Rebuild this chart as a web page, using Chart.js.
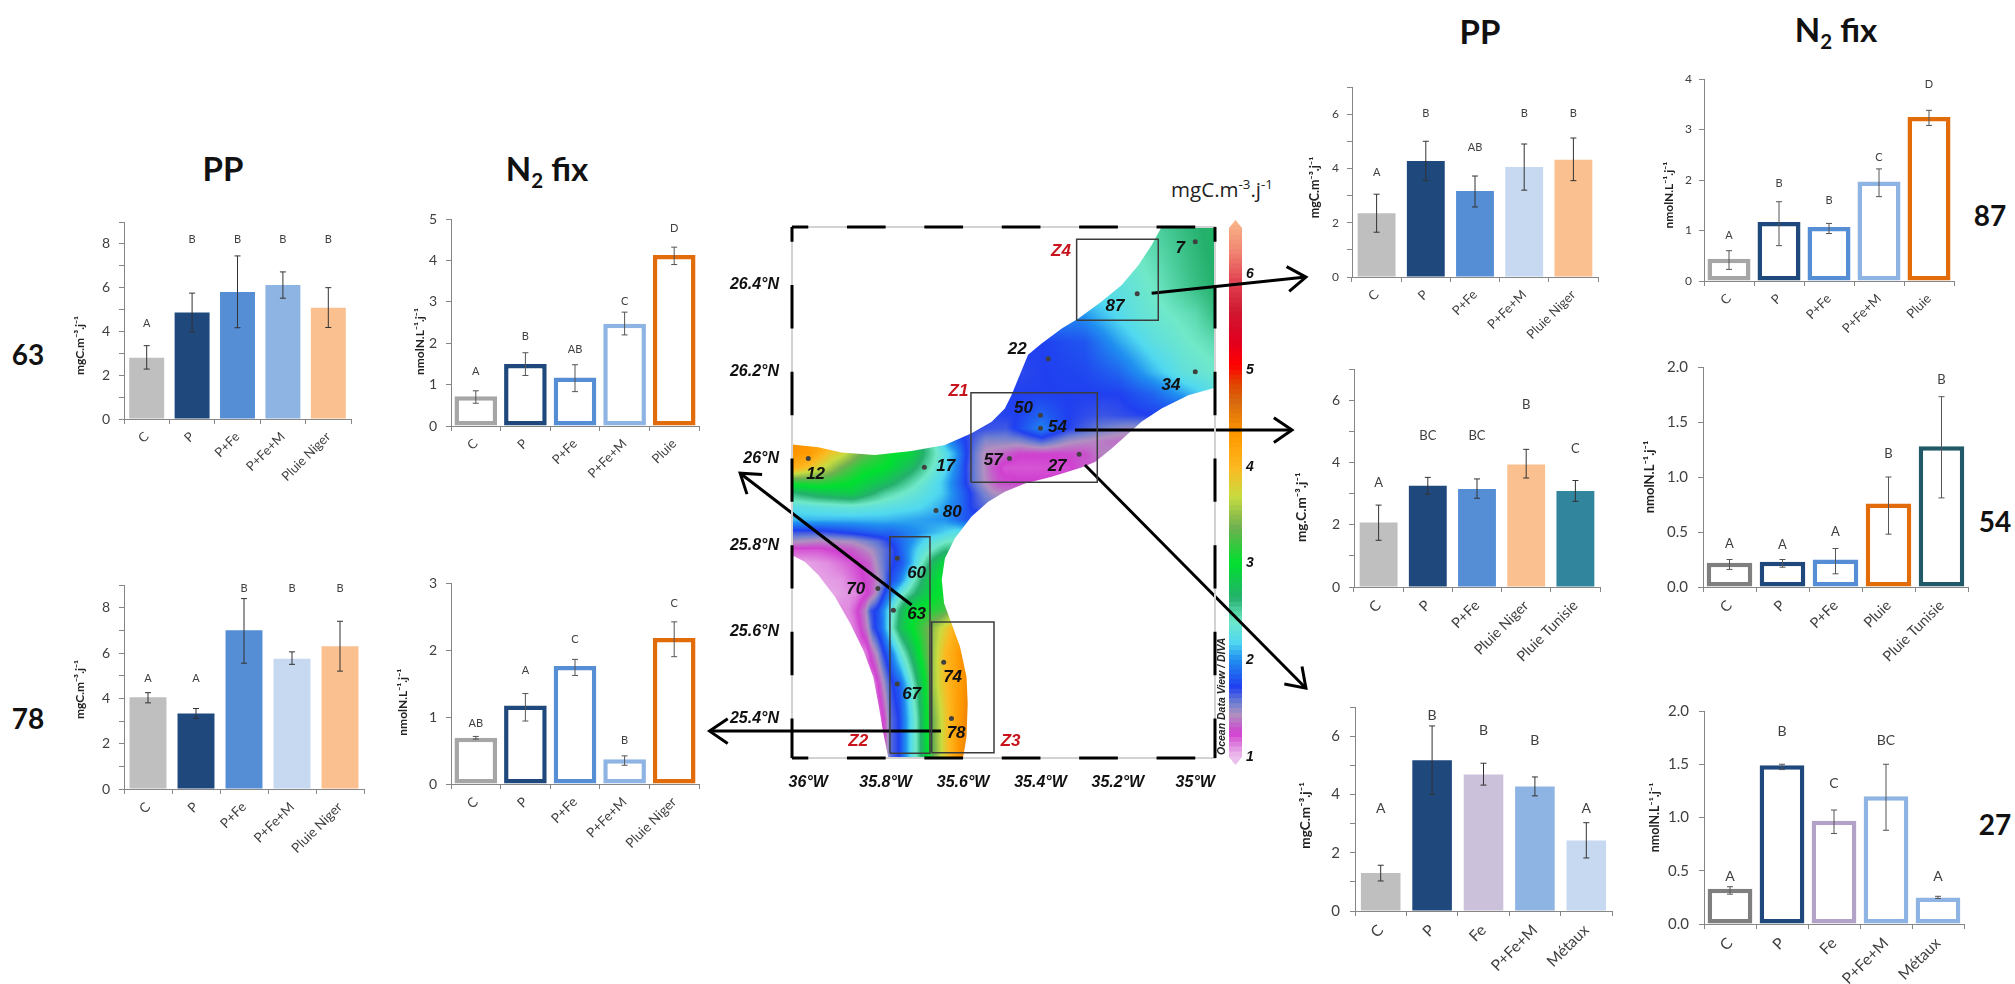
<!DOCTYPE html>
<html lang="fr">
<head>
  <meta charset="UTF-8">
  <title>PP et N2 fix par station</title>
  <script src="https://cdn.jsdelivr.net/npm/chart.js"></script>
  <style>
    html, body { margin: 0; background: #fff; }
    body { position: relative; width: 2015px; height: 984px; overflow: hidden; font-family: Lato, sans-serif; }
    canvas { position: absolute; }
    .big {
      position: absolute;
      transform: translate(-50%, -50%);
      font-weight: 700;
      color: #111;
      line-height: 1;
      white-space: nowrap;
    }
    .big sub { font-size: .62em; line-height: 0; }
    .unit {
      position: absolute;
      transform: translate(-50%, -50%);
      font-family: "Open Sans", sans-serif;
      font-size: 20.5px;
      color: #222;
      white-space: nowrap;
    }
    .unit sup { font-size: .65em; line-height: 0; }
  </style>
</head>
<body>
  <div class="big" style="left:223px;top:168px;font-size:33px">PP</div>
  <div class="big" style="left:547px;top:168px;font-size:33px">N<sub>2</sub> fix</div>
  <div class="big" style="left:1480px;top:31px;font-size:33px">PP</div>
  <div class="big" style="left:1836px;top:29px;font-size:33px">N<sub>2</sub> fix</div>
  <div class="big" style="left:28px;top:354px;font-size:28px">63</div>
  <div class="big" style="left:28px;top:718px;font-size:28px">78</div>
  <div class="big" style="left:1990px;top:215px;font-size:28px">87</div>
  <div class="big" style="left:1995px;top:521px;font-size:28px">54</div>
  <div class="big" style="left:1995px;top:824px;font-size:28px">27</div>
  <div class="unit" style="left:1222px;top:189px">mgC.m<sup>-3</sup>.j<sup>-1</sup></div>

  <canvas id="colorbar" width="50" height="585" style="left:1225px;top:200px"></canvas>
  <canvas id="map" width="620" height="600" style="left:700px;top:200px;z-index:2"></canvas>

  <script>
    // categories
    const catsNiger = ['C', 'P', 'P+Fe', 'P+Fe+M', 'Pluie Niger'];
    const catsPluie = ['C', 'P', 'P+Fe', 'P+Fe+M', 'Pluie'];
    const catsTunisPP = ['C', 'P', 'P+Fe', 'Pluie Niger', 'Pluie Tunisie'];
    const catsTunisN2 = ['C', 'P', 'P+Fe', 'Pluie', 'Pluie Tunisie'];
    const catsMetaux = ['C', 'P', 'Fe', 'P+Fe+M', 'Métaux'];

    // station 63
    const pp63 = [2.8, 4.87, 5.8, 6.12, 5.08];
    const pp63Low = [2.28, 3.98, 4.17, 5.52, 4.18];
    const pp63High = [3.35, 5.75, 7.45, 6.72, 6.0];
    const pp63Letters = ['A', 'B', 'B', 'B', 'B'];
    const pp63LetterY = [4.38, 8.18, 8.18, 8.18, 8.18];
    const n63 = [0.72, 1.5, 1.17, 2.47, 4.13];
    const n63Low = [0.55, 1.22, 0.83, 2.2, 3.9];
    const n63High = [0.85, 1.77, 1.48, 2.75, 4.32];
    const n63Letters = ['A', 'B', 'AB', 'C', 'D'];
    const n63LetterY = [1.32, 2.16, 1.85, 3.0, 4.77];

    // station 78
    const pp78 = [4.05, 3.33, 7.0, 5.75, 6.3];
    const pp78Low = [3.8, 3.12, 5.55, 5.5, 5.2];
    const pp78High = [4.25, 3.55, 8.4, 6.05, 7.4];
    const pp78Letters = ['A', 'A', 'B', 'B', 'B'];
    const pp78LetterY = [4.86, 4.86, 8.85, 8.85, 8.85];
    const n78 = [0.69, 1.17, 1.76, 0.37, 2.18];
    const n78Low = [0.67, 0.94, 1.62, 0.28, 1.9];
    const n78High = [0.71, 1.35, 1.86, 0.42, 2.42];
    const n78Letters = ['AB', 'A', 'C', 'B', 'C'];
    const n78LetterY = [0.91, 1.69, 2.15, 0.65, 2.7];

    // station 87
    const pp87 = [2.35, 4.27, 3.17, 4.05, 4.32];
    const pp87Low = [1.65, 3.55, 2.58, 3.2, 3.55];
    const pp87High = [3.05, 5.0, 3.72, 4.9, 5.12];
    const pp87Letters = ['A', 'B', 'AB', 'B', 'B'];
    const pp87LetterY = [3.84, 6.03, 4.78, 6.03, 6.03];
    const n87 = [0.44, 1.17, 1.07, 1.97, 3.25];
    const n87Low = [0.23, 0.7, 0.94, 1.67, 3.08];
    const n87High = [0.6, 1.57, 1.14, 2.22, 3.38];
    const n87Letters = ['A', 'B', 'B', 'C', 'D'];
    const n87LetterY = [0.9, 1.93, 1.6, 2.45, 3.89];

    // station 54
    const pp54 = [2.07, 3.25, 3.15, 3.93, 3.08];
    const pp54Low = [1.5, 2.98, 2.85, 3.5, 2.75];
    const pp54High = [2.63, 3.52, 3.47, 4.42, 3.42];
    const pp54Letters = ['A', 'BC', 'BC', 'B', 'C'];
    const pp54LetterY = [3.36, 4.85, 4.87, 5.86, 4.43];
    const n54 = [0.22, 0.23, 0.25, 0.76, 1.28];
    const n54Low = [0.16, 0.18, 0.12, 0.48, 0.81];
    const n54High = [0.25, 0.25, 0.35, 1.0, 1.73];
    const n54Letters = ['A', 'A', 'A', 'B', 'B'];
    const n54LetterY = [0.39, 0.38, 0.5, 1.21, 1.885];

    // station 27
    const pp27 = [1.3, 5.17, 4.68, 4.27, 2.42];
    const pp27Low = [1.03, 4.0, 4.32, 3.95, 1.82];
    const pp27High = [1.57, 6.35, 5.07, 4.6, 3.03];
    const pp27Letters = ['A', 'B', 'B', 'B', 'A'];
    const pp27LetterY = [3.53, 6.72, 6.2, 5.86, 3.53];
    const n27 = [0.33, 1.49, 0.97, 1.2, 0.25];
    const n27Low = [0.28, 1.45, 0.85, 0.88, 0.24];
    const n27High = [0.35, 1.5, 1.07, 1.5, 0.26];
    const n27Letters = ['A', 'B', 'C', 'BC', 'A'];
    const n27LetterY = [0.45, 1.81, 1.32, 1.72, 0.45];

    // map stations
    const stationIds = ['7', '87', '22', '34', '50', '54', '27', '57', '12', '17', '80', '60', '70', '63', '67', '74', '78'];
    const stationLon = [-35, -35.15, -35.38, -35, -35.4, -35.4, -35.3, -35.48, -36, -35.7, -35.67, -35.77, -35.82, -35.78, -35.77, -35.65, -35.63];
    const stationLat = [26.5, 26.38, 26.23, 26.2, 26.1, 26.07, 26.01, 26.0, 26.0, 25.98, 25.88, 25.77, 25.7, 25.65, 25.48, 25.53, 25.4];
    const stationTextLon = [-35.039, -35.2075, -35.46, -35.063, -35.444, -35.356, -35.357, -35.522, -35.981, -35.645, -35.628, -35.72, -35.8775, -35.72, -35.733, -35.627, -35.618];
    const stationTextLat = [26.485, 26.35, 26.252, 26.169, 26.116, 26.073, 25.983, 25.996, 25.963, 25.982, 25.875, 25.736, 25.699, 25.641, 25.4565, 25.496, 25.366];

    const lonTicks = [-36, -35.8, -35.6, -35.4, -35.2, -35];
    const lonTickLabels = ['36°W', '35.8°W', '35.6°W', '35.4°W', '35.2°W', '35°W'];
    const latTicks = [25.4, 25.6, 25.8, 26, 26.2, 26.4];
    const latTickLabels = ['25.4°N', '25.6°N', '25.8°N', '26°N', '26.2°N', '26.4°N'];

    // zones: lon from, lon to, lat from, lat to
    const zoneNames = ['Z4', 'Z1', 'Z2', 'Z3'];
    const zoneBoxes = [
      [-35.3065, -35.0956, 26.3186, 26.506],
      [-35.5796, -35.2532, 25.9449, 26.1516],
      [-35.789, -35.6855, 25.3197, 25.8194],
      [-35.681, -35.52, 25.321, 25.623]
    ];
    const zoneTextLon = [-35.347, -35.612, -35.871, -35.477];
    const zoneTextLat = [26.478, 26.155, 25.348, 25.348];

    // arrows: lon from, lat from, lon to, lat to
    const arrows = [
      [-35.1127, 26.3809, -34.714, 26.4185],
      [-35.311, 26.0655, -34.75, 26.0655],
      [-35.285, 25.9848, -34.714, 25.47],
      [-35.733, 25.662, -36.176, 25.966],
      [-35.657, 25.371, -36.255, 25.371]
    ];

    // edge of the interpolated field, lon/lat
    const fieldEdge = [
      [-35.087, 26.534], [-34.949, 26.534], [-34.949, 26.163], [-35.018, 26.146], [-35.087, 26.115], [-35.139, 26.085],
      [-35.182, 26.05], [-35.216, 26.023], [-35.259, 25.992], [-35.294, 25.979], [-35.371, 25.958], [-35.44, 25.942],
      [-35.492, 25.923], [-35.535, 25.9], [-35.578, 25.866], [-35.621, 25.816], [-35.647, 25.769], [-35.655, 25.72],
      [-35.649, 25.666], [-35.63, 25.62], [-35.608, 25.566], [-35.591, 25.496], [-35.588, 25.435], [-35.591, 25.358],
      [-35.6, 25.309], [-35.793, 25.309], [-35.806, 25.366], [-35.819, 25.435], [-35.832, 25.496], [-35.858, 25.558],
      [-35.892, 25.62], [-35.931, 25.681], [-35.974, 25.731], [-36.009, 25.762], [-36.042, 25.777], [-36.042, 26.032],
      [-35.974, 26.026], [-35.914, 26.014], [-35.828, 26.008], [-35.733, 26.017], [-35.647, 26.031], [-35.578, 26.058],
      [-35.526, 26.085], [-35.492, 26.115], [-35.475, 26.146], [-35.457, 26.185], [-35.432, 26.239], [-35.397, 26.265],
      [-35.345, 26.3], [-35.302, 26.323], [-35.242, 26.362], [-35.19, 26.4], [-35.147, 26.446], [-35.113, 26.492]
    ];

    // primary production, one row per latitude, [lon, value]
    const fieldLat = [26.534, 26.4, 26.33, 26.27, 26.2, 26.15, 26.1, 26.07, 26.04, 26.012, 25.98, 25.945, 25.92, 25.89, 25.86, 25.83, 25.81, 25.79, 25.76, 25.72, 25.69, 25.65, 25.61, 25.55, 25.48, 25.4, 25.31];
    const fieldRows = [
      [[-35.2, 2.4], [-35.09, 2.52], [-34.95, 2.68]],
      [[-35.2, 2.28], [-35.1, 2.42], [-35, 2.58], [-34.95, 2.64]],
      [[-35.3, 1.98], [-35.23, 2.14], [-35.14, 2.32], [-35, 2.46], [-34.95, 2.58]],
      [[-35.4, 1.72], [-35.285, 1.8], [-35.2, 2.05], [-35.11, 2.27], [-35.03, 2.38], [-34.95, 2.46]],
      [[-35.45, 1.7], [-35.285, 1.75], [-35.2, 1.85], [-35.11, 2.1], [-35.03, 2.3], [-34.95, 2.38]],
      [[-35.47, 1.72], [-35.2, 1.72], [-35.11, 1.85], [-35.03, 2.05], [-34.95, 2.25]],
      [[-35.52, 1.7], [-35.46, 1.72], [-35.4, 1.85], [-35.33, 1.72], [-35.24, 1.66], [-35.11, 1.72]],
      [[-35.56, 1.68], [-35.49, 1.65], [-35.4, 1.95], [-35.33, 1.72], [-35.24, 1.55], [-35.18, 1.48]],
      [[-36.04, 4.4], [-35.97, 4.3], [-35.9, 3.8], [-35.83, 3.2], [-35.75, 2.95], [-35.68, 2.45], [-35.64, 2.0], [-35.595, 1.72], [-35.543, 1.5], [-35.457, 1.5], [-35.397, 1.62], [-35.328, 1.45], [-35.242, 1.38], [-35.199, 1.35]],
      [[-36.039, 4.35], [-36, 4.3], [-35.948, 3.9], [-35.914, 3.75], [-35.871, 3.4], [-35.828, 3.2], [-35.776, 3.0], [-35.733, 2.9], [-35.698, 2.6], [-35.647, 2.25], [-35.621, 2.05], [-35.595, 1.75], [-35.569, 1.55], [-35.543, 1.4], [-35.509, 1.35], [-35.457, 1.25], [-35.371, 1.25], [-35.285, 1.28], [-35.242, 1.4]],
      [[-36.039, 4.1], [-36, 3.9], [-35.948, 3.6], [-35.914, 3.35], [-35.862, 3.1], [-35.802, 3.0], [-35.733, 2.7], [-35.698, 2.5], [-35.647, 2.2], [-35.612, 1.9], [-35.587, 1.65], [-35.552, 1.45], [-35.526, 1.3], [-35.492, 1.2], [-35.414, 1.2], [-35.328, 1.22], [-35.294, 1.3]],
      [[-36.039, 3.1], [-35.974, 3.15], [-35.888, 3.0], [-35.802, 2.75], [-35.716, 2.4], [-35.655, 2.15], [-35.604, 1.8], [-35.578, 1.6], [-35.543, 1.42], [-35.509, 1.28], [-35.457, 1.25]],
      [[-36.039, 2.6], [-35.974, 2.75], [-35.888, 2.85], [-35.802, 2.5], [-35.716, 2.3], [-35.655, 2.15], [-35.604, 1.85], [-35.561, 1.6], [-35.526, 1.45], [-35.492, 1.4]],
      [[-36.039, 2.25], [-35.974, 2.3], [-35.888, 2.35], [-35.802, 2.28], [-35.716, 2.2], [-35.667, 2.1], [-35.612, 1.9], [-35.578, 1.7], [-35.543, 1.6]],
      [[-36.039, 2.1], [-35.974, 2.1], [-35.888, 2.1], [-35.802, 2.1], [-35.716, 2.05], [-35.647, 2.0], [-35.595, 1.8]],
      [[-36.039, 1.65], [-35.974, 1.65], [-35.888, 1.75], [-35.819, 1.85], [-35.785, 1.85], [-35.716, 2.0], [-35.655, 2.15], [-35.621, 2.25]],
      [[-36.039, 1.45], [-35.974, 1.4], [-35.888, 1.45], [-35.819, 1.6], [-35.785, 1.75], [-35.733, 2.0], [-35.69, 2.25], [-35.638, 2.4]],
      [[-36.039, 1.2], [-35.974, 1.2], [-35.888, 1.3], [-35.836, 1.45], [-35.802, 1.6], [-35.776, 1.72], [-35.716, 2.2], [-35.673, 2.45], [-35.647, 2.6]],
      [[-36.009, 1.05], [-35.948, 1.1], [-35.888, 1.2], [-35.845, 1.3], [-35.81, 1.55], [-35.785, 1.7], [-35.759, 1.8], [-35.716, 2.3], [-35.681, 2.7], [-35.655, 2.9]],
      [[-35.974, 1.05], [-35.914, 1.08], [-35.871, 1.2], [-35.836, 1.3], [-35.81, 1.5], [-35.793, 1.72], [-35.767, 1.9], [-35.733, 2.35], [-35.698, 2.75], [-35.655, 3.05]],
      [[-35.931, 1.05], [-35.879, 1.1], [-35.845, 1.25], [-35.828, 1.4], [-35.81, 1.65], [-35.785, 2.0], [-35.759, 2.35], [-35.716, 2.7], [-35.681, 2.95], [-35.647, 3.05]],
      [[-35.897, 1.1], [-35.879, 1.2], [-35.854, 1.4], [-35.841, 1.65], [-35.819, 1.8], [-35.793, 2.2], [-35.767, 2.6], [-35.742, 2.95], [-35.69, 3.1], [-35.655, 3.2], [-35.638, 3.35]],
      [[-35.888, 1.1], [-35.871, 1.2], [-35.849, 1.4], [-35.836, 1.65], [-35.81, 1.9], [-35.785, 2.4], [-35.759, 2.8], [-35.733, 3.0], [-35.698, 3.3], [-35.673, 3.55], [-35.647, 3.8], [-35.621, 4.1]],
      [[-35.854, 1.1], [-35.841, 1.25], [-35.823, 1.45], [-35.81, 1.65], [-35.785, 1.95], [-35.759, 2.35], [-35.733, 2.7], [-35.707, 3.1], [-35.681, 3.5], [-35.647, 4.0], [-35.621, 4.2], [-35.604, 4.4]],
      [[-35.832, 1.1], [-35.819, 1.25], [-35.802, 1.5], [-35.785, 1.7], [-35.763, 1.85], [-35.742, 2.2], [-35.72, 2.6], [-35.698, 3.0], [-35.681, 3.5], [-35.655, 3.85], [-35.621, 4.2], [-35.587, 4.45]],
      [[-35.815, 1.15], [-35.802, 1.3], [-35.789, 1.6], [-35.767, 1.72], [-35.746, 2.05], [-35.72, 2.45], [-35.698, 2.95], [-35.677, 3.4], [-35.647, 3.85], [-35.612, 4.3], [-35.587, 4.5]],
      [[-35.802, 1.3], [-35.789, 1.6], [-35.767, 1.72], [-35.746, 2.05], [-35.72, 2.45], [-35.694, 2.95], [-35.677, 3.35], [-35.647, 3.85], [-35.612, 4.35], [-35.587, 4.5]]
    ];

    // colour bar stops, top to bottom
    const scaleStops = [1.0, 1.03, 1.24, 1.43, 1.55, 1.72, 2.0, 2.18, 2.4, 2.64, 3.0, 3.37, 3.69, 3.99, 4.33, 4.66, 4.85, 5.05, 5.3, 5.6, 5.9, 6.2, 6.56];
    const scaleColors = [
      [235, 190, 235], [232, 176, 232], [208, 64, 208], [176, 144, 192], [112, 128, 208], [32, 64, 240], [32, 144, 240],
      [80, 216, 240], [112, 232, 200], [36, 176, 108], [0, 224, 48], [112, 176, 80], [200, 220, 64], [253, 184, 32],
      [255, 152, 0], [216, 106, 16], [224, 70, 0], [255, 0, 0], [224, 0, 32], [208, 24, 48], [224, 64, 80], [240, 128, 112], [249, 185, 138]
    ];
    const legendTicks = [1, 2, 3, 4, 5, 6];

    const GREY = '#bfbfbf', GREY2 = '#a6a6a6', GREY3 = '#7f7f7f', NAVY = '#1f497d', BLUE = '#558ed5', SKY = '#8eb4e3',
          PALE = '#c6d9f1', PEACH = '#fac090', TEAL = '#31859c', DTEAL = '#215968', ORANGE = '#e36c0a', LILAC = '#ccc1da', LILAC2 = '#b3a2c7';
    const PPUNIT = 'mgC.m⁻³.j⁻¹', NUNIT = 'nmolN.L⁻¹.j⁻¹';

    const panels = [
      {cats: catsNiger, vals: pp63, low: pp63Low, high: pp63High, letters: pp63Letters, letterY: pp63LetterY, colors: [GREY, NAVY, BLUE, SKY, PEACH], max: 9, step: 1, unit: PPUNIT, unitAt: 3.36, gap: 44, box: [124, 222, 351, 419], sizes: [14, 13, 11, 12], tickPad: 9},
      {cats: catsPluie, vals: n63, low: n63Low, high: n63High, letters: n63Letters, letterY: n63LetterY, colors: [GREY2, NAVY, BLUE, SKY, ORANGE], hollow: true, max: 5, step: 1, unit: NUNIT, unitAt: 2.04, gap: 31, box: [451, 219, 699, 426], sizes: [14, 13, 11, 12], tickPad: 9},
      {cats: catsNiger, vals: pp78, low: pp78Low, high: pp78High, letters: pp78Letters, letterY: pp78LetterY, colors: [GREY, NAVY, BLUE, PALE, PEACH], max: 9, step: 1, unit: PPUNIT, unitAt: 4.39, gap: 44, box: [124, 585, 364, 789], sizes: [14, 13.5, 11, 12], tickPad: 9},
      {cats: catsNiger, vals: n78, low: n78Low, high: n78High, letters: n78Letters, letterY: n78LetterY, colors: [GREY2, NAVY, BLUE, SKY, ORANGE], hollow: true, max: 3, step: 1, unit: NUNIT, unitAt: 1.22, gap: 48, box: [451, 583, 699, 784], sizes: [14, 13.5, 11, 12], tickPad: 9},
      {cats: catsNiger, vals: pp87, low: pp87Low, high: pp87High, letters: pp87Letters, letterY: pp87LetterY, colors: [GREY, NAVY, BLUE, PALE, PEACH], max: 7, step: 1, unit: PPUNIT, unitAt: 3.3, gap: 37, box: [1352, 87, 1598, 277], sizes: [12, 13, 11, 12.5], tickPad: 8},
      {cats: catsPluie, vals: n87, low: n87Low, high: n87High, letters: n87Letters, letterY: n87LetterY, colors: [GREY2, NAVY, BLUE, SKY, ORANGE], hollow: true, max: 4, step: 1, unit: NUNIT, unitAt: 1.7, gap: 35, box: [1704, 79, 1954, 281], sizes: [12, 13, 11, 12], tickPad: 7},
      {cats: catsTunisPP, vals: pp54, low: pp54Low, high: pp54High, letters: pp54Letters, letterY: pp54LetterY, colors: [GREY, NAVY, BLUE, PEACH, TEAL], max: 7, step: 1, unit: 'mg.C.m⁻³.j⁻¹', unitAt: 2.56, gap: 52, box: [1354, 369, 1600, 587], sizes: [14, 14.5, 13, 13.5], tickPad: 9},
      {cats: catsTunisN2, vals: n54, low: n54Low, high: n54High, letters: n54Letters, letterY: n54LetterY, colors: [GREY3, NAVY, BLUE, ORANGE, DTEAL], hollow: true, max: 2, step: 0.5, unit: NUNIT, unitAt: 1.0, gap: 53, box: [1703, 367, 1968, 587], sizes: [15, 14.5, 13, 13], tickPad: 10},
      {cats: catsMetaux, vals: pp27, low: pp27Low, high: pp27High, letters: pp27Letters, letterY: pp27LetterY, colors: [GREY, NAVY, LILAC, SKY, PALE], max: 7, step: 1, unit: PPUNIT, unitAt: 3.28, gap: 49, box: [1355, 707, 1612, 911], sizes: [15, 15.5, 14, 13.5], tickPad: 10},
      {cats: catsMetaux, vals: n27, low: n27Low, high: n27High, letters: n27Letters, letterY: n27LetterY, colors: [GREY3, NAVY, LILAC2, SKY, SKY], hollow: true, max: 2, step: 0.5, unit: NUNIT, unitAt: 1.0, gap: 49, box: [1704, 711, 1964, 924], sizes: [15, 15.5, 14, 12.5], tickPad: 10}
    ];

    const AXIS = '#868686', INK = '#404040';

    // error bars, letters and the axis name of a panel
    const panelMarks = {
      id: 'panelMarks',
      afterDatasetsDraw(chart, args, opts) {
        const {ctx, scales: {y}, chartArea} = chart;
        const bars = chart.getDatasetMeta(0).data;
        ctx.save();
        ctx.strokeStyle = opts.errColor;
        ctx.lineWidth = 1;
        bars.forEach((bar, i) => {
          const lo = y.getPixelForValue(opts.low[i]), hi = y.getPixelForValue(opts.high[i]);
          ctx.beginPath();
          ctx.moveTo(bar.x, lo); ctx.lineTo(bar.x, hi);
          ctx.moveTo(bar.x - 3, lo); ctx.lineTo(bar.x + 3, lo);
          ctx.moveTo(bar.x - 3, hi); ctx.lineTo(bar.x + 3, hi);
          ctx.stroke();
        });
        ctx.fillStyle = INK;
        ctx.textAlign = 'center';
        ctx.textBaseline = 'middle';
        ctx.font = opts.letterSize + 'px Lato';
        bars.forEach((bar, i) => ctx.fillText(opts.letters[i], bar.x, y.getPixelForValue(opts.letterY[i])));
        ctx.translate(chartArea.left - opts.gap, y.getPixelForValue(opts.unitAt));
        ctx.rotate(-Math.PI / 2);
        ctx.fillStyle = '#222';
        ctx.font = 'bold ' + opts.unitSize + 'px Lato';
        ctx.fillText(opts.unit, 0, 0);
        ctx.restore();
      }
    };

    panels.forEach(p => {
      const [ax, top, right, base] = p.box;
      // top margin must stay above half a tick label plus the tick padding
      const mLeft = 62, mTop = 26, mRight = 20, mBottom = 84;
      const canvas = document.createElement('canvas');
      canvas.width = right - ax + mLeft + mRight;
      canvas.height = base - top + mTop + mBottom;
      canvas.style.left = (ax - mLeft) + 'px';
      canvas.style.top = (top - mTop) + 'px';
      document.body.appendChild(canvas);
      const [tickSize, catSize, letterSize, unitSize] = p.sizes;
      new Chart(canvas, {
        type: 'bar',
        data: {
          labels: p.cats,
          datasets: [{
            data: p.vals,
            backgroundColor: p.hollow ? '#fff' : p.colors,
            borderColor: p.colors,
            borderWidth: p.hollow ? 4.5 : 0,
            borderSkipped: false,
            barPercentage: p.hollow ? 0.86 : 0.77,
            categoryPercentage: 1
          }]
        },
        plugins: [panelMarks],
        options: {
          responsive: false,
          animation: false,
          layout: {padding: {top: mTop, right: mRight}},
          plugins: {
            legend: {display: false},
            tooltip: {enabled: false},
            panelMarks: {low: p.low, high: p.high, letters: p.letters, letterY: p.letterY, unit: p.unit, unitAt: p.unitAt, gap: p.gap, letterSize, unitSize, errColor: p.hollow ? '#555' : '#333'}
          },
          scales: {
            x: {
              afterFit: s => { s.height = mBottom; },
              border: {color: AXIS},
              grid: {drawOnChartArea: false, color: AXIS, tickLength: 5},
              ticks: {autoSkip: false, minRotation: 45, maxRotation: 45, padding: 5, color: INK, font: {family: 'Lato', size: catSize}}
            },
            y: {
              min: 0,
              max: p.max,
              afterFit: s => { s.width = mLeft; },
              border: {color: AXIS},
              grid: {drawOnChartArea: false, color: AXIS, tickLength: 5},
              ticks: {
                stepSize: p.step,
                padding: p.tickPad,
                color: INK,
                font: {family: 'Lato', size: tickSize},
                callback: v => p.step === 0.5 ? v.toFixed(1) : (p.max > 5 && v % 2 ? '' : v)
              }
            }
          }
        }
      });
    });

    function scaleColor(v) {
      if (v <= scaleStops[0]) return scaleColors[0];
      for (let i = 1; i < scaleStops.length; i++) {
        if (v <= scaleStops[i]) {
          const t = (v - scaleStops[i - 1]) / (scaleStops[i] - scaleStops[i - 1]);
          return scaleColors[i - 1].map((c, k) => c + (scaleColors[i][k] - c) * t);
        }
      }
      return scaleColors[scaleColors.length - 1];
    }

    function rowValue(row, lon) {
      if (lon <= row[0][0]) return row[0][1];
      for (let i = 1; i < row.length; i++) {
        if (lon <= row[i][0]) {
          const t = (lon - row[i - 1][0]) / (row[i][0] - row[i - 1][0]);
          return row[i - 1][1] + (row[i][1] - row[i - 1][1]) * t;
        }
      }
      return row[row.length - 1][1];
    }

    function fieldValue(lon, lat) {
      if (lat >= fieldLat[0]) return rowValue(fieldRows[0], lon);
      for (let i = 1; i < fieldLat.length; i++) {
        if (lat >= fieldLat[i]) {
          const t = (fieldLat[i - 1] - lat) / (fieldLat[i - 1] - fieldLat[i]);
          return rowValue(fieldRows[i - 1], lon) * (1 - t) + rowValue(fieldRows[i], lon) * t;
        }
      }
      return rowValue(fieldRows[fieldRows.length - 1], lon);
    }

    // draws the field under the stations, clipped to its edge
    const fieldLayer = {
      id: 'fieldLayer',
      beforeDatasetsDraw(chart) {
        const {ctx, chartArea: a, scales: {x, y}} = chart;
        const w = Math.ceil(a.width), h = Math.ceil(a.height);
        const off = document.createElement('canvas');
        off.width = w; off.height = h;
        const octx = off.getContext('2d');
        const img = octx.createImageData(w, h);
        for (let j = 0; j < h; j++) {
          const lat = y.getValueForPixel(a.top + j);
          for (let i = 0; i < w; i++) {
            const c = scaleColor(fieldValue(x.getValueForPixel(a.left + i), lat));
            const k = (j * w + i) * 4;
            img.data[k] = c[0]; img.data[k + 1] = c[1]; img.data[k + 2] = c[2]; img.data[k + 3] = 255;
          }
        }
        octx.putImageData(img, 0, 0);
        ctx.save();
        ctx.beginPath();
        fieldEdge.forEach((p, i) => {
          const px = x.getPixelForValue(p[0]), py = y.getPixelForValue(p[1]);
          if (i) ctx.lineTo(px, py); else ctx.moveTo(px, py);
        });
        ctx.closePath();
        ctx.clip();
        ctx.drawImage(off, a.left, a.top);
        ctx.restore();
      },
      afterDatasetsDraw(chart) {
        const {ctx, chartArea: a, scales: {x, y}} = chart;
        ctx.save();
        // dashed ODV frame
        ctx.strokeStyle = '#d2d2d2';
        ctx.lineWidth = 2;
        ctx.strokeRect(a.left, a.top, a.width, a.height);
        ctx.strokeStyle = '#000';
        ctx.lineWidth = 3;
        ctx.beginPath();
        for (let lon = -36.1; lon < -34.9; lon += 0.2) {
          const x0 = Math.max(x.getPixelForValue(lon), a.left), x1 = Math.min(x.getPixelForValue(lon + 0.1), a.right);
          if (x1 <= x0) continue;
          ctx.moveTo(x0, a.top); ctx.lineTo(x1, a.top);
          ctx.moveTo(x0, a.bottom); ctx.lineTo(x1, a.bottom);
        }
        for (let lat = 25.3; lat < 26.6; lat += 0.2) {
          const y0 = Math.min(y.getPixelForValue(lat), a.bottom), y1 = Math.max(y.getPixelForValue(lat + 0.1), a.top);
          if (y0 <= y1) continue;
          ctx.moveTo(a.left, y0); ctx.lineTo(a.left, y1);
          ctx.moveTo(a.right, y0); ctx.lineTo(a.right, y1);
        }
        ctx.stroke();

        // arrow heads
        ctx.lineWidth = 3;
        arrows.forEach(r => {
          const x0 = x.getPixelForValue(r[0]), y0 = y.getPixelForValue(r[1]);
          const x1 = x.getPixelForValue(r[2]), y1 = y.getPixelForValue(r[3]);
          const ang = Math.atan2(y1 - y0, x1 - x0);
          ctx.beginPath();
          ctx.moveTo(x1 - 22 * Math.cos(ang - 0.6), y1 - 22 * Math.sin(ang - 0.6));
          ctx.lineTo(x1, y1);
          ctx.lineTo(x1 - 22 * Math.cos(ang + 0.6), y1 - 22 * Math.sin(ang + 0.6));
          ctx.stroke();
        });

        ctx.textAlign = 'center';
        ctx.textBaseline = 'middle';
        ctx.font = 'italic bold 17px "Liberation Sans"';
        ctx.fillStyle = '#111';
        stationIds.forEach((id, i) => ctx.fillText(id, x.getPixelForValue(stationTextLon[i]), y.getPixelForValue(stationTextLat[i])));
        ctx.fillStyle = '#c8141c';
        zoneNames.forEach((n, i) => ctx.fillText(n, x.getPixelForValue(zoneTextLon[i]), y.getPixelForValue(zoneTextLat[i])));

        ctx.translate(a.right + 7, a.bottom - 3);
        ctx.rotate(-Math.PI / 2);
        ctx.textAlign = 'left';
        ctx.font = 'italic bold 10.5px "Liberation Sans"';
        ctx.fillStyle = '#222';
        ctx.fillText('Ocean Data View / DIVA', 0, 0);
        ctx.restore();
      }
    };

    const zoneSets = zoneBoxes.map(b => ({
      type: 'scatter',
      data: [{x: b[0], y: b[2]}, {x: b[1], y: b[2]}, {x: b[1], y: b[3]}, {x: b[0], y: b[3]}, {x: b[0], y: b[2]}],
      showLine: true,
      borderColor: '#3c3c3c',
      borderWidth: 1.5,
      pointRadius: 0,
      clip: false
    }));
    const arrowSets = arrows.map(r => ({
      type: 'scatter',
      data: [{x: r[0], y: r[1]}, {x: r[2], y: r[3]}],
      showLine: true,
      borderColor: '#000',
      borderWidth: 3,
      pointRadius: 0,
      clip: false
    }));

    new Chart(document.getElementById('map'), {
      type: 'scatter',
      data: {
        datasets: [{
          data: stationLon.map((lon, i) => ({x: lon, y: stationLat[i]})),
          pointRadius: 2.5,
          pointBorderWidth: 0,
          backgroundColor: '#404040',
          clip: false
        }, ...zoneSets, ...arrowSets]
      },
      plugins: [fieldLayer],
      options: {
        responsive: false,
        animation: false,
        layout: {padding: {top: 27, right: 105}},
        plugins: {legend: {display: false}, tooltip: {enabled: false}},
        scales: {
          x: {
            min: -36.042,
            max: -34.949,
            afterFit: s => { s.height = 42; },
            afterBuildTicks: s => { s.ticks = lonTicks.map(v => ({value: v})); },
            grid: {display: false},
            border: {display: false},
            ticks: {
              autoSkip: false, maxRotation: 0, padding: 7, color: '#111',
              font: {family: 'Liberation Sans', size: 16, style: 'italic', weight: 'bold'},
              callback: (v, i) => lonTickLabels[i]
            }
          },
          y: {
            min: 25.309,
            max: 26.534,
            afterFit: s => { s.width = 92; },
            afterBuildTicks: s => { s.ticks = latTicks.map(v => ({value: v})); },
            grid: {display: false},
            border: {display: false},
            ticks: {
              padding: 5, color: '#111',
              font: {family: 'Liberation Sans', size: 16, style: 'italic', weight: 'bold'},
              callback: (v, i) => latTickLabels[i]
            }
          }
        }
      }
    });

    // colour bar, one floating bar per level
    const barLevels = [];
    for (let v = 0.9; v < 6.56; v += 0.05) barLevels.push(v);

    const barShape = {
      id: 'barShape',
      beforeDatasetsDraw(chart) {
        const {ctx, chartArea: a} = chart;
        const mid = (a.left + a.right) / 2;
        ctx.save();
        ctx.beginPath();
        ctx.moveTo(mid, a.top); ctx.lineTo(a.right, a.top + 8); ctx.lineTo(a.right, a.bottom - 8);
        ctx.lineTo(mid, a.bottom); ctx.lineTo(a.left, a.bottom - 8); ctx.lineTo(a.left, a.top + 8);
        ctx.closePath();
        ctx.clip();
      },
      afterDatasetsDraw(chart) { chart.ctx.restore(); }
    };

    new Chart(document.getElementById('colorbar'), {
      type: 'bar',
      data: {
        labels: [''],
        datasets: barLevels.map(v => {
          const c = scaleColor(v + 0.025);
          return {
            data: [[v, v + 0.052]],
            grouped: false,
            barPercentage: 1,
            categoryPercentage: 1,
            backgroundColor: 'rgb(' + c.map(Math.round).join(',') + ')'
          };
        })
      },
      plugins: [barShape],
      options: {
        responsive: false,
        animation: false,
        layout: {padding: {left: 4, top: 20, bottom: 20}},
        plugins: {legend: {display: false}, tooltip: {enabled: false}},
        scales: {
          x: {display: false},
          y: {
            position: 'right',
            min: 0.915,
            max: 6.557,
            afterFit: s => { s.width = 33; },
            afterBuildTicks: s => { s.ticks = legendTicks.map(v => ({value: v})); },
            grid: {display: false, drawTicks: false},
            border: {display: false},
            ticks: {padding: 4, color: '#111', font: {family: 'Liberation Sans', size: 14, style: 'italic', weight: 'bold'}}
          }
        }
      }
    });
  </script>
</body>
</html>
